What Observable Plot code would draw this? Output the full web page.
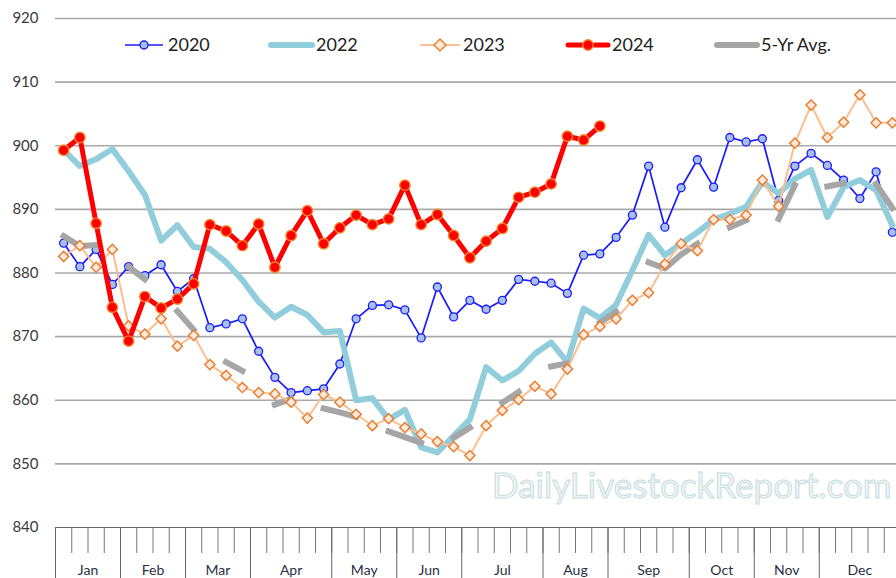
<!DOCTYPE html>
<html>
<head>
<meta charset="utf-8">
<script src="https://cdn.jsdelivr.net/npm/d3@7"></script>
<script src="https://cdn.jsdelivr.net/npm/@observablehq/plot@0.6"></script>
<style>
  html, body { margin: 0; padding: 0; background: #fff; overflow: hidden; }
  #wrap { position: relative; width: 896px; height: 578px; font-family: Lato, "Liberation Sans", sans-serif; }
  #overlay { position: absolute; left: 0; top: 0; }
  #chart { position: absolute; left: 0; top: 0; }
  #chart svg { background: transparent !important; }
</style>
</head>
<body>
<div id="wrap">
  <svg id="overlay" width="896" height="578"></svg>
  <div id="chart"></div>
</div>
<script>
// ---------- data ----------
const months = ["Jan","Feb","Mar","Apr","May","Jun","Jul","Aug","Sep","Oct","Nov","Dec"];
const weeksPerMonth = [4,4,4,5,4,4,5,4,5,4,4,5];
const yTicks = [840,850,860,870,880,890,900,910,920];

const y2020 = [884.7,881.0,883.7,878.2,881.0,879.6,881.3,877.1,879.1,871.4,872.0,872.8,867.7,863.6,861.2,861.5,861.8,865.7,872.8,874.9,875.0,874.2,869.8,877.8,873.1,875.7,874.3,875.7,879.0,878.7,878.4,876.8,882.8,883.0,885.6,889.1,896.8,887.2,893.4,897.8,893.5,901.3,900.6,901.1,891.4,896.8,898.8,896.9,894.6,891.7,895.9,886.4];
const y2022 = [899.3,896.8,897.9,899.5,896.0,892.3,885.1,887.5,884.1,883.8,881.7,878.9,875.5,873.0,874.7,873.4,870.7,870.9,860.0,860.3,857.0,858.5,852.6,851.8,854.4,857.0,865.2,863.1,864.6,867.3,869.1,866.0,874.4,872.9,875.0,880.4,886.0,882.8,884.6,886.4,888.4,889.3,890.4,894.3,892.5,894.8,896.2,888.8,893.5,894.6,893.0,887.5];
const y2023 = [882.6,884.3,880.9,883.7,871.7,870.4,872.8,868.5,870.2,865.6,863.9,862.0,861.2,861.0,859.7,857.2,860.9,859.7,857.8,856.0,857.1,855.7,854.7,853.5,852.7,851.3,856.0,858.4,860.1,862.2,861.0,864.9,870.3,871.6,872.8,875.7,876.9,881.4,884.6,883.5,888.4,888.4,889.1,894.6,890.5,900.4,906.4,901.3,903.7,908.0,903.6,903.6];
const y2024 = [899.3,901.3,887.8,874.6,869.3,876.3,874.5,875.9,878.3,887.6,886.6,884.3,887.7,880.9,885.9,889.8,884.6,887.1,889.1,887.6,888.5,893.8,887.6,889.2,885.9,882.4,885.0,887.0,891.9,892.7,894.0,901.5,900.9,903.1];
const avg5 = [885.8,884.2,884.4,null,881.0,879.0,null,874.0,871.1,null,866.0,864.6,null,859.3,860.2,null,858.7,858.1,857.4,null,855.1,854.2,853.3,null,854.1,855.7,null,859.6,861.3,null,865.3,865.8,null,872.2,873.9,null,881.7,880.7,882.9,884.6,null,887.2,888.3,null,888.5,893.8,null,893.6,894.1,null,894.0,890.2];

// ---------- derived ----------
const rows = vals => vals.map((v, i) => ({week: i, value: v}));
const boundaries = [0];
weeksPerMonth.forEach(n => boundaries.push(boundaries[boundaries.length - 1] + n));
const weekEdges = d3.range(53).map(k => k - 0.5);
const monthEdges = boundaries.map(k => k - 0.5);
const monthCenters = weeksPerMonth.map((n, i) => boundaries[i] + n / 2 - 0.5);
const monthByCenter = new Map(monthCenters.map((c, i) => [c, months[i]]));

const C = {
  c2020: "#1a1aff", f2020: "#a9c0e6",
  c2022: "#92cddc",
  c2023: "#fbbe8e", s2023: "#e8792a", f2023: "#fde9d9",
  c2024: "#ff0000", s2024: "#f08a2c",
  avg: "#a6a6a6"
};

const chart = Plot.plot({
  width: 896, height: 578,
  marginLeft: 55, marginRight: 0, marginTop: 18, marginBottom: 51,
  x: {domain: [-0.5, 51.5], range: [55, 900], axis: null},
  y: {domain: [840, 920], axis: null},
  style: {fontFamily: "Lato, 'Liberation Sans', sans-serif", color: "#333", background: "transparent", overflow: "visible"},
  marks: [
    Plot.ruleY(yTicks.filter(d => d > 840), {stroke: "#a9a9a9", strokeWidth: 1.6}),
    Plot.axisY(yTicks, {tickSize: 0, tickPadding: 17, fontSize: 15, fill: "#3a3a3a", label: null}),
    Plot.axisX(weekEdges, {tickSize: 26, tickFormat: () => "", stroke: "#777", strokeWidth: 1, label: null}),
    Plot.axisX(monthEdges, {tickSize: 60, tickFormat: () => "", stroke: "#666", strokeWidth: 1, label: null}),
    Plot.axisX(monthCenters, {tickSize: 0, tickPadding: 38, fontSize: 14, fill: "#2a2f45", tickFormat: d => monthByCenter.get(d), label: null}),
    Plot.ruleY([840], {stroke: "#666", strokeWidth: 1.2}),
    // 2020
    Plot.line(rows(y2020), {x: "week", y: "value", stroke: C.c2020, strokeWidth: 1.7}),
    Plot.dot(rows(y2020), {x: "week", y: "value", r: 4, fill: C.f2020, stroke: C.c2020, strokeWidth: 1.3}),
    // 2022
    Plot.line(rows(y2022), {x: "week", y: "value", stroke: C.c2022, strokeWidth: 6, strokeLinejoin: "round", strokeLinecap: "round"}),
    // 5-yr avg
    Plot.line(rows(avg5), {x: "week", y: "value", stroke: C.avg, strokeWidth: 6, strokeLinejoin: "round", strokeLinecap: "square"}),
    // 2023
    Plot.line(rows(y2023), {x: "week", y: "value", stroke: C.c2023, strokeWidth: 2}),
    Plot.dot(rows(y2023), {x: "week", y: "value", symbol: "diamond2", r: 4.6, fill: C.f2023, stroke: C.s2023, strokeWidth: 1.4}),
    // 2024
    Plot.line(rows(y2024), {x: "week", y: "value", stroke: C.c2024, strokeWidth: 5, strokeLinejoin: "round"}),
    Plot.dot(rows(y2024), {x: "week", y: "value", r: 5.2, fill: C.c2024, stroke: C.s2024, strokeWidth: 1.4})
  ]
});
document.getElementById("chart").appendChild(chart);

// ---------- overlay: watermark + legend ----------
const ov = d3.select("#overlay");
ov.append("text")
  .attr("x", 492).attr("y", 498)
  .attr("font-family", "Lato, 'Liberation Sans', sans-serif")
  .attr("font-size", 35)
  .attr("fill", "#eef6f6").attr("stroke", "#c7dddd").attr("stroke-width", 1)
  .text("DailyLivestockReport.com");

const leg = d3.select("#chart svg").append("g")
  .attr("font-family", "Lato, 'Liberation Sans', sans-serif")
  .attr("font-size", 18).attr("fill", "#222").attr("text-anchor", "start");
const legendItems = [
  {label: "2020", x0: 125, x1: 163, tx: 168, stroke: C.c2020, w: 1.7, marker: "circle", mf: C.f2020, ms: C.c2020, mr: 4},
  {label: "2022", x0: 271, x1: 312, tx: 316, stroke: C.c2022, w: 6},
  {label: "2023", x0: 420, x1: 460, tx: 463, stroke: C.c2023, w: 2, marker: "diamond", mf: C.f2023, ms: C.s2023, mr: 6},
  {label: "2024", x0: 568, x1: 608, tx: 612, stroke: C.c2024, w: 5, marker: "circle", mf: C.c2024, ms: C.s2024, mr: 5.2},
  {label: "5-Yr Avg.", x0: 717, x1: 757, tx: 761, stroke: C.avg, w: 6}
];
const ly = 45;
legendItems.forEach(it => {
  leg.append("line").attr("x1", it.x0).attr("x2", it.x1).attr("y1", ly).attr("y2", ly)
    .attr("stroke", it.stroke).attr("stroke-width", it.w).attr("stroke-linecap", it.w > 3 ? "round" : "butt");
  const cx = (it.x0 + it.x1) / 2;
  if (it.marker === "circle") {
    leg.append("circle").attr("cx", cx).attr("cy", ly).attr("r", it.mr).attr("fill", it.mf).attr("stroke", it.ms).attr("stroke-width", 1.4);
  } else if (it.marker === "diamond") {
    const r = it.mr;
    leg.append("path").attr("d", `M${cx},${ly - r}L${cx + r},${ly}L${cx},${ly + r}L${cx - r},${ly}Z`).attr("fill", it.mf).attr("stroke", it.ms).attr("stroke-width", 1.4);
  }
  leg.append("text").attr("x", it.tx).attr("y", ly).attr("dy", "0.35em").attr("text-anchor", "start").text(it.label);
});
</script>
</body>
</html>
